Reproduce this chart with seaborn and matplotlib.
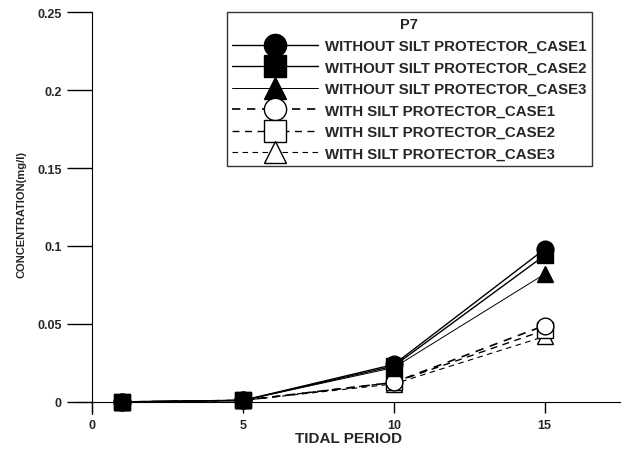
import matplotlib
matplotlib.use("Agg")
import matplotlib.pyplot as plt
import seaborn as sns
import pandas as pd
from matplotlib.lines import Line2D

sns.set_style("white")
plt.rcParams['font.family'] = ['Liberation Sans', 'DejaVu Sans']
plt.rcParams['font.weight'] = 'bold'

tidal_period = [1, 5, 10, 15]
without_case1 = [0.0, 0.001, 0.024, 0.098]
without_case2 = [0.0, 0.001, 0.023, 0.094]
without_case3 = [0.0, 0.001, 0.022, 0.082]
with_case1 = [0.0, 0.001, 0.0125, 0.049]
with_case2 = [0.0, 0.001, 0.0125, 0.046]
with_case3 = [0.0, 0.001, 0.0115, 0.042]

labels = ["WITHOUT SILT PROTECTOR_CASE1", "WITHOUT SILT PROTECTOR_CASE2",
          "WITHOUT SILT PROTECTOR_CASE3", "WITH SILT PROTECTOR_CASE1",
          "WITH SILT PROTECTOR_CASE2", "WITH SILT PROTECTOR_CASE3"]
series = [without_case1, without_case2, without_case3, with_case1, with_case2, with_case3]
markers = ['o', 's', '^', 'o', 's', '^']
filled = [True, True, True, False, False, False]
styles = ['-', '-', '-', (0, (5, 4)), (0, (5, 4)), (0, (5, 4))]
widths = [1.0, 1.0, 0.7, 1.2, 1.0, 0.8]

x_ticks = [0, 5, 10, 15]
x_ticklabels = ["0", "5", "10", "15"]
y_ticks = [0, 0.05, 0.1, 0.15, 0.2, 0.25]
y_ticklabels = ["0", "0.05", "0.1", "0.15", "0.2", "0.25"]

fig = plt.figure(figsize=(6.27, 4.52), dpi=100)
ax = fig.add_axes([0.123, 0.081, 0.866, 0.89])

handles = []
for i, (lab, vals, m, f, ls, lw) in enumerate(zip(labels, series, markers, filled, styles, widths)):
    df = pd.DataFrame({"x": tidal_period, "y": vals})
    z = 3 if f else 2
    sns.lineplot(data=df, x="x", y="y", ax=ax, color="black", linestyle=ls, linewidth=lw,
                 marker=m, markersize=12, markerfacecolor=("black" if f else "white"),
                 markeredgecolor="black", markeredgewidth=1.0, legend=False, zorder=z + (6 - i) * 0.01)
    handles.append(Line2D([], [], color="black", linestyle=ls, linewidth=lw, marker=m,
                          markersize=16, markerfacecolor=("black" if f else "white"),
                          markeredgecolor="black", markeredgewidth=1.0, label=lab))

ax.set_xlim(-0.5, 17.5)
ax.set_ylim(-0.008, 0.25)
for s in ['top', 'right']:
    ax.spines[s].set_visible(False)
ax.spines['left'].set_position(('data', 0))
ax.spines['bottom'].set_position(('data', 0))
ax.spines['left'].set_color('black')
ax.spines['bottom'].set_color('black')
ax.spines['left'].set_bounds(-0.008, 0.25)
ax.set_xticks(x_ticks)
ax.set_xticklabels(x_ticklabels)
ax.set_yticks(y_ticks)
ax.set_yticklabels(y_ticklabels)
ax.tick_params(axis='both', left=True, bottom=True, direction='out', width=1,
               color='black', labelsize=9)
ax.tick_params(axis='x', length=8, pad=4)
ax.tick_params(axis='y', length=18, pad=4)

ax.set_xlabel("TIDAL PERIOD", fontsize=11, fontweight='bold', labelpad=0)
ax.set_ylabel("CONCENTRATION(mg/l)", fontsize=8, fontweight='bold', labelpad=8)

leg = ax.legend(handles=handles, title="P7", loc='upper right', bbox_to_anchor=(0.948, 1.0),
                fontsize=10.8, title_fontsize=10.5, handlelength=5.7, handletextpad=0.5,
                frameon=True, fancybox=False, borderpad=0.35, labelspacing=0.5,
                borderaxespad=0)
leg.get_frame().set_edgecolor('black')
leg.get_frame().set_linewidth(1.0)
leg.get_title().set_fontweight('bold')
for t in leg.get_texts():
    t.set_fontweight('bold')

fig.savefig("out.png", dpi=100)
